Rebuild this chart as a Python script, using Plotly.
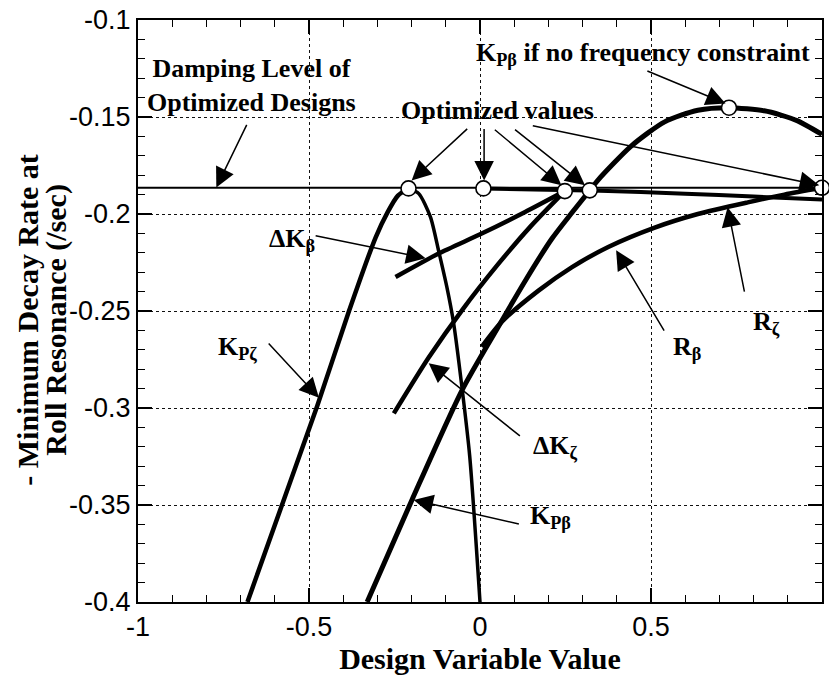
import plotly.graph_objects as go

# ---------------- data ----------------
kpz_left_x = [-0.680, -0.476, -0.383, -0.305, -0.270, -0.240, -0.209]
kpz_left_y = [-0.400, -0.299, -0.250, -0.212, -0.199, -0.1905, -0.1868]
kpz_right_x = [-0.209, -0.179, -0.145, -0.121, -0.097, -0.077, -0.053, -0.030, 0.000]
kpz_right_y = [-0.1868, -0.1895, -0.2015, -0.2190, -0.2376, -0.2564, -0.2890, -0.3250, -0.400]

kpb_x = [-0.330, -0.199, -0.053, 0.054, 0.132, 0.209, 0.268, 0.321, 0.345, 0.442, 0.540, 0.637, 0.728, 0.831, 0.880, 0.929, 1.000]
kpb_y = [-0.400, -0.3474, -0.2910, -0.2580, -0.2345, -0.2130, -0.1995, -0.1878, -0.1825, -0.1650, -0.1525, -0.1465, -0.1452, -0.1468, -0.1490, -0.1520, -0.1590]

dkb_x = [-0.247, -0.121, 0.005, 0.132, 0.248]
dkb_y = [-0.2325, -0.2204, -0.2101, -0.1990, -0.1882]

dkz_x = [-0.252, -0.150, -0.050, 0.050, 0.150, 0.248]
dkz_y = [-0.3028, -0.2740, -0.2490, -0.2265, -0.2060, -0.1882]

rb_x = [0.005, 0.064, 0.171, 0.268, 0.375, 0.511, 0.637, 0.783, 0.890, 1.000]
rb_y = [-0.2685, -0.2555, -0.2395, -0.2275, -0.2170, -0.2070, -0.2000, -0.1940, -0.1900, -0.1865]

rz_x = [0.01, 0.35, 0.60, 0.80, 1.00]
rz_y = [-0.1868, -0.1880, -0.1895, -0.1910, -0.1925]

damp_x = [-1.0, 1.0]
damp_y = [-0.1865, -0.1865]

opt_x = [-0.209, 0.010, 0.248, 0.321, 1.000, 0.728]
opt_y = [-0.1868, -0.1868, -0.1882, -0.1878, -0.1865, -0.1452]

x_ticks = [-1, -0.5, 0, 0.5, 1]
x_tick_labels = ["-1", "-0.5", "0", "0.5", "1"]
y_ticks = [-0.4, -0.35, -0.3, -0.25, -0.2, -0.15, -0.1]
y_tick_labels = ["-0.4", "-0.35", "-0.3", "-0.25", "-0.2", "-0.15", "-0.1"]

SERIF = "Liberation Serif, Times New Roman, serif"
SANS = "Liberation Sans, Arial, Helvetica, sans-serif"

fig = go.Figure()

def curve(x, y, w, smooth=True):
    fig.add_trace(go.Scatter(x=x, y=y, mode="lines",
                             line=dict(color="black", width=w,
                                       shape="spline" if smooth else "linear",
                                       smoothing=0.7),
                             showlegend=False, hoverinfo="skip"))

curve(damp_x, damp_y, 2, smooth=False)
curve(kpz_left_x, kpz_left_y, 4.5)
curve(kpz_right_x, kpz_right_y, 3.5)
curve(kpb_x, kpb_y, 5)
curve(dkb_x, dkb_y, 4.5)
curve(dkz_x, dkz_y, 4.5)
curve(rb_x, rb_y, 4.5)
curve(rz_x, rz_y, 4)

fig.add_trace(go.Scatter(x=opt_x, y=opt_y, mode="markers",
                         marker=dict(symbol="circle", size=15, color="white",
                                     line=dict(color="black", width=1.6)),
                         showlegend=False, hoverinfo="skip", cliponaxis=False))

annots = []

def label(text, x, y, xanchor="left", size=26, yanchor="middle"):
    annots.append(dict(x=x, y=y, xref="x", yref="y", text=text, showarrow=False,
                       xanchor=xanchor, yanchor=yanchor,
                       font=dict(family=SERIF, size=size, color="black", weight="bold")))

def arrow(tx, ty, hx, hy):
    annots.append(dict(x=hx, y=hy, ax=tx, ay=ty, xref="x", yref="y", axref="x", ayref="y",
                       text="", showarrow=True, arrowhead=2, arrowsize=2.6, arrowwidth=1.5,
                       arrowcolor="black"))

label("Damping Level of<br>Optimized Designs", -0.668, -0.1337, xanchor="center")
arrow(-0.680, -0.1533, -0.771, -0.1863)

label("Optimized values", 0.051, -0.1466, xanchor="center")
arrow(-0.033, -0.1554, -0.200, -0.1827)
arrow(0.012, -0.1554, 0.012, -0.1827)
arrow(0.039, -0.1559, 0.238, -0.1852)
arrow(0.098, -0.1559, 0.307, -0.1852)
arrow(0.150, -0.1543, 0.992, -0.1852)

label("K<sub>Pβ</sub> if no frequency constraint", 0.477, -0.1175, xanchor="center")
arrow(0.485, -0.1260, 0.718, -0.1430)

label("ΔK<sub>β</sub>", -0.622, -0.2135)
arrow(-0.485, -0.2110, -0.159, -0.2228)

label("K<sub>Pζ</sub>", -0.771, -0.2690)
arrow(-0.622, -0.2660, -0.471, -0.2947)

label("ΔK<sub>ζ</sub>", 0.150, -0.3200)
arrow(0.121, -0.3150, -0.150, -0.2769)

label("K<sub>Pβ</sub>", 0.141, -0.3560)
arrow(0.118, -0.3600, -0.194, -0.3474)

label("R<sub>β</sub>", 0.558, -0.2690)
arrow(0.541, -0.2609, 0.398, -0.2187)

label("R<sub>ζ</sub>", 0.791, -0.2560)
arrow(0.774, -0.2408, 0.724, -0.1965)

# y-axis title as two lines
annots.append(dict(x=0, y=0.485, xref="paper", yref="paper", xshift=-110, textangle=-90,
                   text="- Minimum Decay Rate at", showarrow=False, xanchor="center", yanchor="middle",
                   font=dict(family=SERIF, size=30, color="black", weight="bold")))
annots.append(dict(x=0, y=0.485, xref="paper", yref="paper", xshift=-82, textangle=-90,
                   text="Roll Resonance (/sec)", showarrow=False, xanchor="center", yanchor="middle",
                   font=dict(family=SERIF, size=30, color="black", weight="bold")))

fig.update_layout(
    width=829, height=683,
    margin=dict(l=138, r=5, t=19, b=81),
    paper_bgcolor="white", plot_bgcolor="white",
    annotations=annots,
    xaxis=dict(range=[-1, 1], tickvals=x_ticks, ticktext=x_tick_labels,
               ticks="inside", ticklen=14, tickwidth=1.5, tickcolor="black",
               minor=dict(dtick=0.1, ticks="inside", ticklen=7, tickcolor="black", tickwidth=1.2, showgrid=False),
               showline=True, linecolor="black", linewidth=2, mirror="ticks",
               showgrid=True, gridcolor="#111", griddash="dot", gridwidth=1.3,
               zeroline=False,
               tickfont=dict(family=SANS, size=27, color="black"),
               title=dict(text="Design Variable Value", standoff=6,
                          font=dict(family=SERIF, size=30, color="black", weight="bold"))),
    yaxis=dict(range=[-0.4, -0.1], tickvals=y_ticks, ticktext=y_tick_labels,
               ticks="inside", ticklen=14, tickwidth=1.5, tickcolor="black",
               minor=dict(dtick=0.01, ticks="inside", ticklen=7, tickcolor="black", tickwidth=1.2, showgrid=False),
               showline=True, linecolor="black", linewidth=2, mirror="ticks",
               showgrid=True, gridcolor="#111", griddash="dot", gridwidth=1.3,
               zeroline=False, ticklabelstandoff=0,
               tickfont=dict(family=SANS, size=27, color="black")),
)

fig.write_html("out.html")
